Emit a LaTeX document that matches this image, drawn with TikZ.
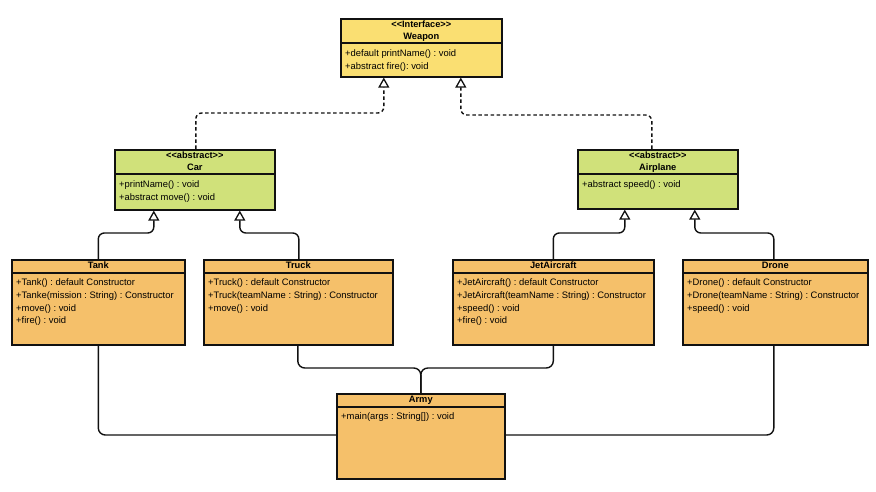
\documentclass[tikz,border=0pt]{standalone}
\usepackage{fontspec}
\setmainfont[Ligatures=NoCommon]{Liberation Sans}
\usetikzlibrary{arrows.meta}
\frenchspacing
\definecolor{ifill}{HTML}{FADF72}
\definecolor{afill}{HTML}{D0E17A}
\definecolor{cfill}{HTML}{F5C06A}
\definecolor{edge}{HTML}{111111}
\newcommand{\stereo}[1]{{\fontsize{9.2}{11.5}\selectfont <{}<#1>{}>}}
\tikzset{
  cls/.style={draw=edge, line width=1.6pt, rectangle, inner sep=0pt, anchor=north west},
  divider/.style={draw=edge, line width=1.6pt},
  hdr/.style={font=\bfseries\fontsize{9.3}{11.8}\selectfont, inner sep=0pt, align=center, anchor=north},
  mem/.style={font=\fontsize{9.4}{12.8}\selectfont, inner sep=0pt, align=left, anchor=north west},
  inh/.style={draw=edge, line width=1.4pt, rounded corners=6pt, -{Triangle[open, width=11pt, length=10pt, fill=white, line width=1.3pt]}},
  real/.style={inh, dash pattern=on 3.5pt off 2.6pt},
  assoc/.style={draw=edge, line width=1.4pt, rounded corners=7pt},
}
\begin{document}
\begin{tikzpicture}[x=1pt, y=-1pt]
\useasboundingbox (0,0) rectangle (876,492);
% Weapon
\node[cls, fill=ifill, minimum width=161pt, minimum height=58pt] (weapon) at (340,18) {};
\draw[divider] ([yshift=-25pt]weapon.north west) -- ([yshift=-25pt]weapon.north east);
\node[hdr] (weaponT) at ([yshift=-3pt]weapon.north) {\stereo{Interface}\\Weapon};
\node[mem] (weaponM) at ([xshift=5pt,yshift=-31.5pt]weapon.north west) {+default printName() : void\\+abstract fire(): void};
% Car
\node[cls, fill=afill, minimum width=160pt, minimum height=60pt] (car) at (114,149) {};
\draw[divider] ([yshift=-25pt]car.north west) -- ([yshift=-25pt]car.north east);
\node[hdr] (carT) at ([yshift=-3pt]car.north) {\stereo{abstract}\\Car};
\node[mem] (carM) at ([xshift=5pt,yshift=-31.5pt]car.north west) {+printName() : void\\+abstract move() : void};
% Airplane
\node[cls, fill=afill, minimum width=160pt, minimum height=59pt] (plane) at (577,149) {};
\draw[divider] ([yshift=-25pt]plane.north west) -- ([yshift=-25pt]plane.north east);
\node[hdr] (planeT) at ([yshift=-3pt]plane.north) {\stereo{abstract}\\Airplane};
\node[mem] (planeM) at ([xshift=5pt,yshift=-31.5pt]plane.north west) {+abstract speed() : void};
% Tank
\node[cls, fill=cfill, minimum width=173pt, minimum height=85pt] (tank) at (11,259) {};
\draw[divider] ([yshift=-14pt]tank.north west) -- ([yshift=-14pt]tank.north east);
\node[hdr] (tankT) at ([yshift=-2.5pt]tank.north) {Tank};
\node[mem] (tankM) at ([xshift=5pt,yshift=-19.5pt]tank.north west) {+Tank() : default Constructor\\+Tanke(mission : String) : Constructor\\+move() : void\\+fire() : void};
% Truck
\node[cls, fill=cfill, minimum width=189pt, minimum height=85pt] (truck) at (203,259) {};
\draw[divider] ([yshift=-14pt]truck.north west) -- ([yshift=-14pt]truck.north east);
\node[hdr] (truckT) at ([yshift=-2.5pt]truck.north) {Truck};
\node[mem] (truckM) at ([xshift=5pt,yshift=-19.5pt]truck.north west) {+Truck() : default Constructor\\+Truck(teamName : String) : Constructor\\+move() : void};
% JetAircraft
\node[cls, fill=cfill, minimum width=201pt, minimum height=85pt] (jet) at (452,259) {};
\draw[divider] ([yshift=-14pt]jet.north west) -- ([yshift=-14pt]jet.north east);
\node[hdr] (jetT) at ([yshift=-2.5pt]jet.north) {JetAircraft};
\node[mem] (jetM) at ([xshift=5pt,yshift=-19.5pt]jet.north west) {+JetAircraft() : default Constructor\\+JetAircraft(teamName : String) : Constructor\\+speed() : void\\+fire() : void};
% Drone
\node[cls, fill=cfill, minimum width=185pt, minimum height=85pt] (drone) at (682,259) {};
\draw[divider] ([yshift=-14pt]drone.north west) -- ([yshift=-14pt]drone.north east);
\node[hdr] (droneT) at ([yshift=-2.5pt]drone.north) {Drone};
\node[mem] (droneM) at ([xshift=5pt,yshift=-19.5pt]drone.north west) {+Drone() : default Constructor\\+Drone(teamName : String) : Constructor\\+speed() : void};
% Army
\node[cls, fill=cfill, minimum width=168pt, minimum height=85pt] (army) at (336,393) {};
\draw[divider] ([yshift=-14pt]army.north west) -- ([yshift=-14pt]army.north east);
\node[hdr] (armyT) at ([yshift=-2.5pt]army.north) {Army};
\node[mem] (armyM) at ([xshift=5pt,yshift=-19.5pt]army.north west) {+main(args : String[]) : void};
% levels
\coordinate (lvlA) at (0,113);
\coordinate (lvlB) at (0,115);
\coordinate (lvlC) at (0,233);
\coordinate (lvlD) at (0,368);
\coordinate (lvlE) at (0,435);
% realization
\draw[real] ([xshift=1pt]car.north) -- ([xshift=1pt]car.north |- lvlA) -| ([xshift=-37.5pt]weapon.south);
\draw[real] ([xshift=-6pt]plane.north) -- ([xshift=-6pt]plane.north |- lvlB) -| ([xshift=39.5pt]weapon.south);
% inheritance
\draw[inh] (tank.north) -- (tank.north |- lvlC) -| ([xshift=-41pt]car.south);
\draw[inh] ([xshift=0.5pt]truck.north) -- ([xshift=0.5pt]truck.north |- lvlC) -| ([xshift=45pt]car.south);
\draw[inh] (jet.north) -- (jet.north |- lvlC) -| ([xshift=-33pt]plane.south);
\draw[inh] ([xshift=-1.5pt]drone.north) -- ([xshift=-1.5pt]drone.north |- lvlC) -| ([xshift=37pt]plane.south);
% associations
\draw[assoc] (tank.south) -- (tank.south |- lvlE) -- (army.west |- lvlE);
\draw[assoc] ([xshift=-1.5pt]drone.south) -- ([xshift=-1.5pt]drone.south |- lvlE) -- (army.east |- lvlE);
\draw[assoc] ([xshift=-0.5pt]truck.south) -- ([xshift=-0.5pt]truck.south |- lvlD) -| (army.north);
\draw[assoc] (jet.south) -- (jet.south |- lvlD) -| (army.north);
\end{tikzpicture}
\end{document}
